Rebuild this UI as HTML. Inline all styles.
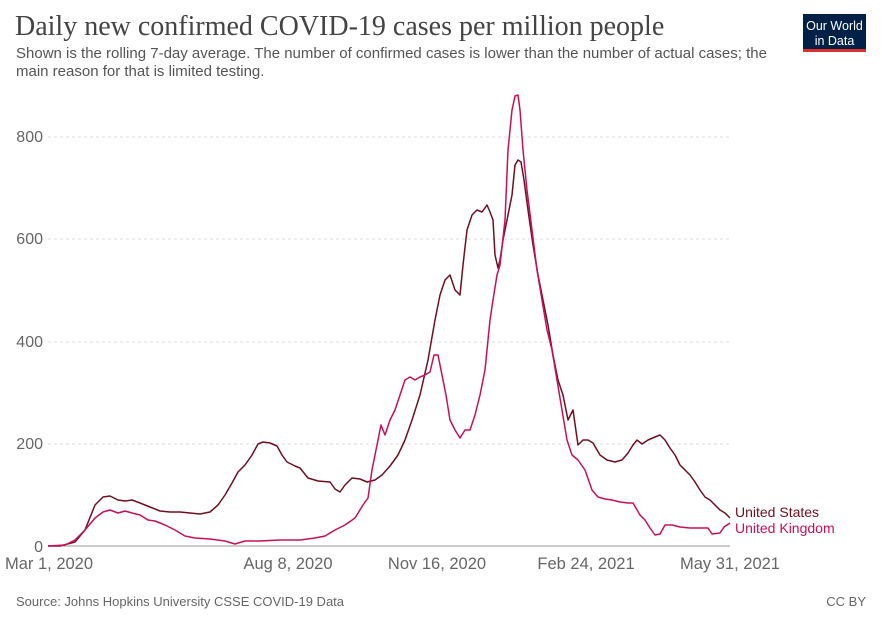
<!DOCTYPE html>
<html><head><meta charset="utf-8"><style>
body{margin:0;background:#fff;width:882px;height:623px;overflow:hidden;font-family:"Liberation Sans",sans-serif}
</style></head><body>
<svg width="882" height="623" xmlns="http://www.w3.org/2000/svg" font-family="Liberation Sans, sans-serif">
<text x="15" y="35" font-family="Liberation Serif, serif" font-size="28" fill="#444">Daily new confirmed COVID-19 cases per million people</text>
<text x="16" y="58" font-size="15" fill="#555">Shown is the rolling 7-day average. The number of confirmed cases is lower than the number of actual cases; the</text>
<text x="16" y="76" font-size="15" fill="#555">main reason for that is limited testing.</text>
<rect x="803" y="14" width="63" height="35" fill="#002147"/>
<rect x="803" y="49" width="63" height="3" fill="#dc2f2f"/>
<text x="834.5" y="30" font-size="12.5" fill="#fff" text-anchor="middle">Our World</text>
<text x="834.5" y="45" font-size="12.5" fill="#fff" text-anchor="middle">in Data</text>
<g stroke="#ddd" stroke-dasharray="3,3">
<line x1="48" x2="730" y1="137" y2="137"/><line x1="48" x2="730" y1="239" y2="239"/><line x1="48" x2="730" y1="342" y2="342"/><line x1="48" x2="730" y1="444" y2="444"/>
</g>
<line x1="48" x2="730" y1="546" y2="546" stroke="#999"/>
<g font-size="16" fill="#666" text-anchor="end">
<text x="43" y="142">800</text><text x="43" y="244">600</text><text x="43" y="347">400</text><text x="43" y="449">200</text><text x="43" y="552">0</text>
</g>
<g font-size="16.5" fill="#666" text-anchor="middle">
<text x="49" y="569">Mar 1, 2020</text><text x="288" y="569">Aug 8, 2020</text><text x="437" y="569">Nov 16, 2020</text><text x="586" y="569">Feb 24, 2021</text><text x="730" y="569">May 31, 2021</text>
</g>
<polyline fill="none" stroke="#6d1020" stroke-width="1.5" stroke-linejoin="round" points="48,546 60,546 75,542 85,530 95,505 103,497 110,496 118,500 125,501 132,500 140,503 150,507 160,511 170,512 180,512 190,513 200,514 210,512 218,505 225,495 232,483 238,472 245,465 252,455 258,444 263,442 270,443 277,446 282,455 287,462 295,466 300,468 308,478 318,481 330,482 335,489 340,492 345,485 352,478 360,479 367,482 375,480 382,475 390,466 398,455 405,440 412,420 420,395 428,360 435,320 440,295 445,280 450,275 455,290 460,295 463,265 467,230 472,215 477,210 482,212 487,205 490,212 493,220 495,255 498,268 500,260 503,240 507,220 512,195 515,165 518,160 521,162 524,180 528,210 533,245 538,275 543,300 548,325 553,355 558,380 563,395 568,420 573,410 578,445 583,440 588,440 593,443 600,455 607,460 615,462 622,460 628,453 633,445 637,440 642,444 648,440 655,437 660,435 665,440 670,448 675,455 680,465 685,470 690,475 695,482 700,490 705,497 710,500 715,505 720,510 725,513 730,518"/>
<polyline fill="none" stroke="#c8105a" stroke-width="1.5" stroke-linejoin="round" points="48,546 65,545 75,540 85,530 95,518 103,512 110,510 118,513 125,511 132,513 140,515 148,520 155,521 165,525 175,530 185,536 195,538 210,539 225,541 235,544 245,541 260,541 280,540 300,540 315,538 325,536 335,530 345,525 355,518 363,505 368,498 372,470 377,445 381,425 385,435 390,420 395,410 400,395 405,380 410,377 415,380 420,377 425,375 430,372 434,355 438,355 442,375 446,395 450,420 455,430 460,438 465,430 470,430 475,415 480,395 485,370 490,320 493,300 497,275 500,265 505,220 508,150 512,110 515,96 518,95 520,110 523,150 527,190 532,230 537,270 542,300 547,330 552,350 557,380 562,410 567,440 572,455 578,460 585,470 592,490 598,497 605,499 612,500 620,502 628,503 633,503 640,515 645,520 650,528 655,535 660,534 665,525 672,525 680,527 690,528 700,528 708,528 712,534 720,533 724,527 730,523"/>
<text x="735" y="517" font-size="14" fill="#6d1020">United States</text>
<text x="735" y="533" font-size="14" fill="#c8105a">United Kingdom</text>
<text x="16" y="606" font-size="13" fill="#666">Source: Johns Hopkins University CSSE COVID-19 Data</text>
<text x="866" y="606" font-size="13" fill="#666" text-anchor="end">CC BY</text>
</svg>
</body></html>
